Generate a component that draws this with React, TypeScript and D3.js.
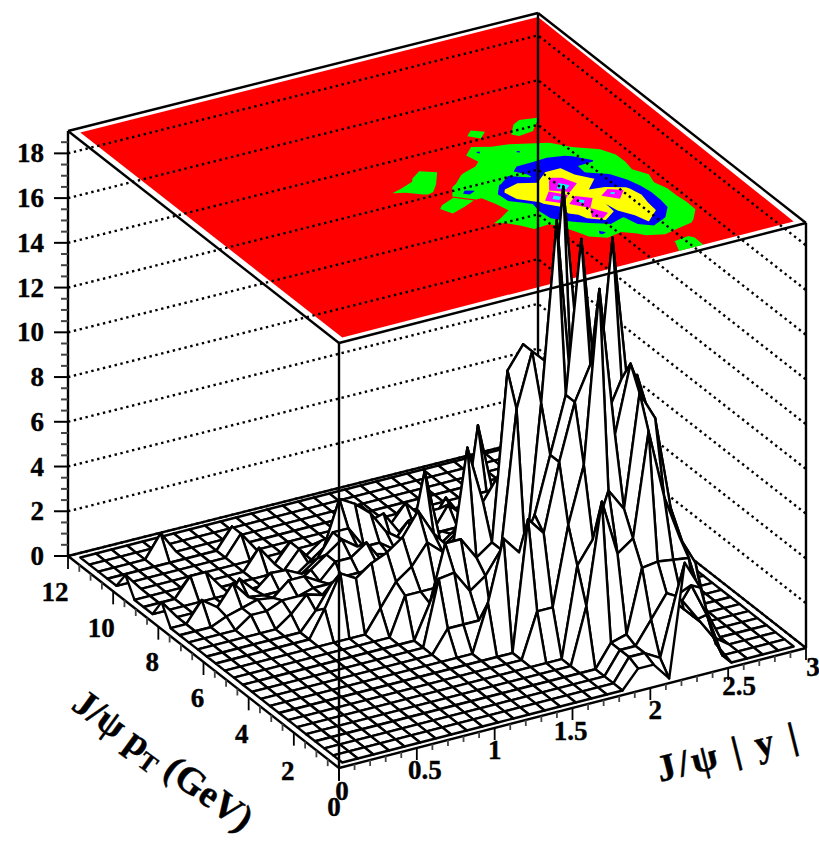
import React, { useEffect, useRef } from 'react';
import * as d3 from 'd3';

// bin values: one row per pT bin (0.4 GeV), 30 |y| bins per row
const zRows: number[][] = [
  [0,0,0,0,0,0,0,0,0,0, 0,0,0,0,0,0,0,0,0,.8, .8,0,5,3.7,1,0,0,0,0,0],
  [0,0,0,0,0,0,0,0,0,0, 0,0,0,0,0,0,0,0,0,1, 1,.6,3.2,3.5,2,0,0,0,0,0],
  [0,0,0,0,0,0,0,0,0,0, 0,0,0,0,0,0,0,0,0,1, 1,2,3,2.5,1.5,.5,0,0,0,0],
  [0,0,0,0,0,0,0,0,0,0, 0,0,0,0,0,0,0,0,0,1, 1.2,4,4.1,4,3.9,1.5,0,0,0,0],
  [0,0,0,0,0,0,0,0,0,0, 0,0,0,0,0,0,0,0,2.5,7, 4.5,5,9.6,6.5,4.5,3.2,0,0,0,0],
  [0,0,0,0,0,0,0,0,0,0, 0,0,0,0,0,0,0,0,4,5, 7,6,11,9.7,5.5,3.3,0,0,0,0],
  [0,0,0,0,0,0,0,0,0,0, 0,0,0,0,0,0,2,2,5.5,8, 15.7,9,12,10,6,3,0,0,0,0],
  [0,0,0,0,0,0,0,0,0,0, 0,0,0,0,0,0,5.8,5,8,10.5, 12,9.5,11,11,6,3,0,0,0,0],
  [0,0,0,0,0,0,0,0,0,0, 0,0,0,0,2.1,4.8,4,5.5,8,10.5, 17.3,10,17,10,5.5,2,0,0,0,0],
  [0,0,0,0,0,0,0,0,0,0, 0,0,1,1,1,0,3.5,3.3,10,18, 9.6,9.6,8,8,5,3,1,0,0,0],
  [0,0,0,0,0,0,0,0,0,0, 0,0,2.9,3,2,2.5,3.5,9.6,12,11.3, 19,11,9.5,6.5,4,2,1,0,0,0],
  [0,0,0,0,0,0,0,0,0,0, 0,0,1.5,4,4,3,3.5,11,12,10, 13,11,6,5,4,2.5,1,0,0,0],
  [0,0,0,0,0,0,0,0,0,0, 0,1.7,1.7,1.7,3,7.6,5,6,8,6, 9.6,9.6,6.4,6.5,4.5,2,0,0,0,0],
  [0,0,0,0,0,0,0,0,0,0, 1,2,2.5,3.4,2.8,3.4,5,5,5.5,7, 7.5,8,7,5,3.3,2,0,0,0,0],
  [0,0,0,0,0,0,0,1.2,2.6,2.2, 2.7,3,3.5,4.5,3.3,2.5,3.4,4,4.5,5.5, 5,5,4.5,3,2,1,0,0,0,0],
  [0,0,0,0,0,0,0,.8,1.8,2, 2,2,2,2.5,5.8,2.5,2,2.5,4,4.5, 6.6,4,3.3,2,1,0,0,0,0,0],
  [0,0,0,0,0,0,.5,1.2,1,1.5, 1.5,1.5,1,1.5,1.5,1,1.5,2,6.8,3.5, 3.2,2.5,2,1,0,0,0,0,0,0],
  [0,0,0,0,.5,.5,.8,.8,1,1, .8,1,1.5,1,1,1,1,1.5,2,2, 2,3.6,3.5,1.5,.5,0,0,0,0,0],
  [0,0,0,.3,.5,.7,.6,1.2,1.2,.8, 1.5,1.5,2,1,.8,1,.8,1,1.5,5, 2,2.5,4,3.3,1,0,0,0,0,0],
  [0,0,.9,.4,1.3,.5,.4,.4,.5,1, 1.5,2,1.5,1,.8,.5,.5,.5,1,1.5, 1,1,1.5,1,0,0,0,0,0,0],
  [.85,0,0,0,0,1,.3,.9,.85,.5, 1,2,2,1,1,.5,0,.5,.8,.8, .5,0,0,0,0,0,0,0,0,0],
  [0,0,0,0,0,0,0,0,0,0, .5,1,3,2.6,2,1,.5,0,.5,1.5, .8,0,0,0,0,0,0,0,0,0],
  [0,0,0,.85,.85,0,0,0,0,0, .8,0,1,1,2,.8,0,.8,1,1, .5,0,0,0,0,0,0,0,0,0],
  [0,0,0,0,0,0,0,0,.9,0, .8,0,.5,0,0,.8,1,0,0,0, 1,0,0,0,0,0,0,0,0,0],
  [.8,0,0,0,0,0,0,0,0,0, 0,0,0,0,0,.6,0,0,.8,0, 0,0,0,0,0,0,0,0,0,0],
  [0,0,0,0,0,0,0,0,.9,0, 0,0,0,0,0,0,0,0,0,0, 0,0,0,0,0,0,0,0,0,0],
  [0,0,0,0,0,0,0,0,.9,0, 0,0,0,0,0,0,0,0,0,0, 0,0,0,0,0,0,0,0,0,0],
  [0,0,0,0,1,0,0,0,0,0, 0,0,0,0,0,0,0,0,0,0, 0,0,0,0,0,0,0,0,0,0],
  [0,0,0,0,0,0,0,0,0,0, 0,0,0,0,0,0,0,0,0,0, 0,0,0,0,0,0,0,0,0,0],
  [0,0,0,0,0,0,0,0,0,0, 0,0,0,0,0,0,0,0,0,0, 0,0,0,0,0,0,0,0,0,0],
];

const zTicks = [0, 2, 4, 6, 8, 10, 12, 14, 16, 18];
const yTicks = [0, 0.5, 1, 1.5, 2, 2.5, 3];
const ptTicks = [0, 2, 4, 6, 8, 10, 12];
const contourLevels = [3.17, 6.33, 9.5, 12, 15.8];
const contourColors = ['#00ff00', '#0000ff', '#ffff00', '#ff00ff', '#00ffff'];

const App = () => {
  const svgRef = useRef<SVGSVGElement>(null);

  useEffect(() => {
    const svg = d3.select(svgRef.current);
    svg.selectAll('*').remove();

    const nx = zRows[0].length;
    const ny = zRows.length;
    const xMax = 3;
    const ptMax = 12;
    const zMax = 19;

    // oblique projection of the box, front corner at (339,768)
    const xDx = d3.scaleLinear().domain([0, xMax]).range([0, 467]);
    const xDy = d3.scaleLinear().domain([0, xMax]).range([0, -120]);
    const ptDx = d3.scaleLinear().domain([0, ptMax]).range([0, -271]);
    const ptDy = d3.scaleLinear().domain([0, ptMax]).range([0, -212]);
    const zDy = d3.scaleLinear().domain([0, zMax]).range([0, -425]);
    const project = (x: number, pt: number, z: number): [number, number] => [
      339 + xDx(x) + ptDx(pt),
      768 + xDy(x) + ptDy(pt) + zDy(z),
    ];
    // the far corner of the printed box sits a little off the parallelogram
    const corner = (x: number, pt: number, z: number): [number, number] => {
      const [px, py] = project(x, pt, z);
      return x === xMax && pt === ptMax ? [px + 3, py + 2] : [px, py];
    };
    const xCentre = (i: number) => ((i + 0.5) * xMax) / nx;
    const ptCentre = (j: number) => ((j + 0.5) * ptMax) / ny;
    const line = d3.line();

    const seg = (g: any, a: [number, number], b: [number, number], w = 2.4, colour = '#000') =>
      g.append('line')
        .attr('x1', a[0]).attr('y1', a[1])
        .attr('x2', b[0]).attr('y2', b[1])
        .attr('stroke', colour)
        .attr('stroke-width', w);

    // contours on the lid
    const lid = svg.append('g');
    lid.append('path')
      .attr('d', line([
        project(xCentre(0), ptCentre(0), zMax),
        project(xCentre(nx - 1), ptCentre(0), zMax),
        corner(xMax, ptMax, zMax).map((v, k) => v + (k === 0 ? 0 : 4)) as [number, number],
        project(xCentre(0), ptCentre(ny - 1), zMax),
      ]) + 'Z')
      .attr('fill', '#ff0000');

    const clampX = d3.scaleLinear().domain([xCentre(0), xCentre(nx - 1)]).range([xCentre(0), xCentre(nx - 1)]).clamp(true);
    const clampPt = d3.scaleLinear().domain([ptCentre(0), ptCentre(ny - 1)]).range([ptCentre(0), ptCentre(ny - 1)]).clamp(true);
    const lidPath = d3.geoPath(d3.geoTransform({
      point(gx: number, gy: number) {
        const [px, py] = project(clampX((gx * xMax) / nx), clampPt((gy * ptMax) / ny), zMax);
        (this as any).stream.point(px, py);
      },
    }));
    const contours = d3.contours().size([nx, ny]).thresholds(contourLevels)(zRows.flat());
    lid.selectAll('path.level')
      .data(contours)
      .enter().append('path')
      .attr('class', 'level')
      .attr('d', (d: any) => lidPath(d))
      .attr('fill', (_: any, k: number) => contourColors[k]);

    // back walls: dotted lines at the major z ticks
    const walls = svg.append('g');
    zTicks.forEach(z => {
      walls.append('path')
        .attr('d', line([corner(0, ptMax, z), corner(xMax, ptMax, z), corner(xMax, 0, z)]))
        .attr('fill', 'none')
        .attr('stroke', '#000')
        .attr('stroke-width', 2.4)
        .attr('stroke-dasharray', '2.4 3.6');
    });

    // box edges behind the surface
    const box = svg.append('g');
    seg(box, corner(0, ptMax, 0), corner(0, ptMax, zMax));
    seg(box, corner(xMax, ptMax, 0), corner(xMax, ptMax, zMax));
    seg(box, corner(xMax, 0, 0), corner(xMax, 0, zMax));
    seg(box, corner(0, ptMax, zMax), corner(xMax, ptMax, zMax));
    seg(box, corner(xMax, ptMax, zMax), corner(xMax, 0, zMax));
    seg(box, corner(0, ptMax, 0), corner(xMax, ptMax, 0));
    seg(box, corner(xMax, ptMax, 0), corner(xMax, 0, 0));

    // surface, painted back to front
    const surface = svg.append('g');
    for (let j = ny - 2; j >= 0; j--) {
      for (let i = nx - 2; i >= 0; i--) {
        surface.append('path')
          .attr('d', line([
            project(xCentre(i), ptCentre(j), zRows[j][i]),
            project(xCentre(i + 1), ptCentre(j), zRows[j][i + 1]),
            project(xCentre(i + 1), ptCentre(j + 1), zRows[j + 1][i + 1]),
            project(xCentre(i), ptCentre(j + 1), zRows[j + 1][i]),
          ]) + 'Z')
          .attr('fill', '#fff')
          .attr('stroke', '#000')
          .attr('stroke-width', 2.4)
          .attr('stroke-linejoin', 'round');
      }
    }

    // front edges on top
    const front = svg.append('g');
    seg(front, project(0, 0, 0), project(0, 0, zMax));
    seg(front, project(0, 0, zMax), project(xMax, 0, zMax));
    seg(front, project(0, 0, zMax), project(0, ptMax, zMax));
    seg(front, project(0, 0, 0), project(xMax, 0, 0));
    seg(front, project(0, 0, 0), project(0, ptMax, 0));

    const font = "'Liberation Serif', 'Times New Roman', serif";
    const axes = svg.append('g')
      .attr('font-family', font)
      .attr('font-weight', 'bold')
      .attr('font-size', 27)
      .attr('stroke', '#000')
      .attr('stroke-width', 0.4);

    // z axis
    d3.range(0, 19, 0.5).forEach(z => {
      const major = z % 2 === 0;
      const [px, py] = project(0, ptMax, z);
      seg(axes, [px - (major ? 14 : 7), py], [px, py], 2, major ? '#000' : '#444');
    });
    axes.selectAll('text.z')
      .data(zTicks)
      .enter().append('text')
      .attr('class', 'z')
      .attr('x', 44)
      .attr('y', (d: number) => project(0, ptMax, d)[1] + 9)
      .attr('text-anchor', 'end')
      .text((d: number) => d);

    // |y| axis
    d3.range(0, 3.01, 0.1).forEach(x => {
      const major = Math.abs(x * 2 - Math.round(x * 2)) < 1e-6;
      const [px, py] = project(x, 0, 0);
      seg(axes, [px, py], [px, py + (major ? 12 : 6)], 1.8, major ? '#000' : '#444');
    });
    const yLabelOffset: number[][] = [[3, 32], [8, 31], [0, 31], [-2, 32], [5, 31], [11, 27], [7, 28]];
    axes.selectAll('text.y')
      .data(yTicks)
      .enter().append('text')
      .attr('class', 'y')
      .attr('x', (d: number, k: number) => project(d, 0, 0)[0] + yLabelOffset[k][0])
      .attr('y', (d: number, k: number) => project(d, 0, 0)[1] + yLabelOffset[k][1])
      .attr('text-anchor', 'middle')
      .text((d: number) => d);

    // pT axis
    d3.range(0, 12.01, 0.5).forEach(p => {
      const major = p % 2 === 0;
      const [px, py] = project(0, p, 0);
      seg(axes, [px, py], [px, py + (major ? 13 : 7)], 1.8, major ? '#000' : '#444');
    });
    const ptLabelOffset: number[][] = [[-5, 48], [-6, 47], [-7, 46], [-6, 45], [-6, 44], [-12, 46], [-13, 45]];
    axes.selectAll('text.pt')
      .data(ptTicks)
      .enter().append('text')
      .attr('class', 'pt')
      .attr('x', (d: number, k: number) => project(0, d, 0)[0] + ptLabelOffset[k][0])
      .attr('y', (d: number, k: number) => project(0, d, 0)[1] + ptLabelOffset[k][1])
      .attr('text-anchor', 'middle')
      .text((d: number) => d);

    // axis titles
    svg.append('text')
      .attr('transform', 'translate(660,782) rotate(-14)')
      .attr('font-family', font)
      .attr('font-weight', 'bold')
      .attr('font-size', 38)
      .attr('letter-spacing', 3)
      .attr('stroke', '#000')
      .attr('stroke-width', 0.4)
      .text('J/ψ | y |');

    const ptTitle = svg.append('text')
      .attr('transform', 'translate(70,708) rotate(36)')
      .attr('font-family', font)
      .attr('font-weight', 'bold')
      .attr('font-size', 38)
      .attr('stroke', '#000')
      .attr('stroke-width', 0.4);
    ptTitle.append('tspan').text('J/ψ p');
    ptTitle.append('tspan').attr('font-size', 26).attr('dy', 7).text('T');
    ptTitle.append('tspan').attr('dy', -7).text(' (GeV)');
  }, []);

  return (
    <svg
      ref={svgRef}
      width={819}
      height={845}
      style={{ position: 'absolute', left: 0, top: 0, background: '#fff' }}
    />
  );
};

export default App;
